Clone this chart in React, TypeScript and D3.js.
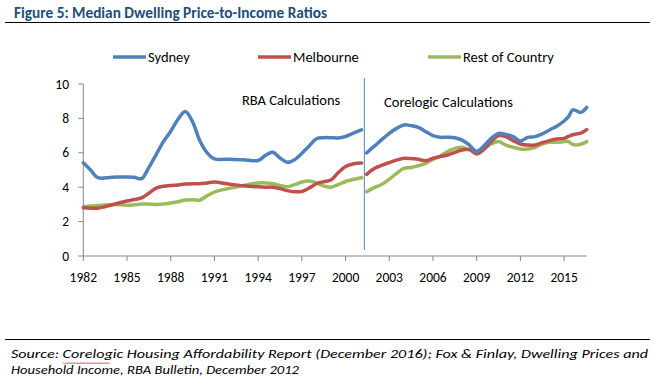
import React from "react";
import * as d3 from "d3";

const seriesNames = ["Sydney", "Melbourne", "Rest of Country"];
const seriesColors = ["#4F81BD", "#C0504D", "#9BBB59"];

// RBA calculations (to 2001)
const rbaYears = [1982, 1982.5, 1983, 1984, 1985, 1985.5, 1986, 1986.5, 1987, 1987.5, 1988, 1988.5, 1989, 1989.5, 1990, 1990.5, 1991, 1992, 1993, 1994, 1994.5, 1995, 1995.5, 1996, 1996.5, 1997, 1997.5, 1998, 1998.5, 1999, 1999.5, 2000, 2000.5, 2001.1];
const sydneyRBA = [5.42, 5.0, 4.55, 4.58, 4.6, 4.58, 4.5, 5.15, 5.9, 6.65, 7.25, 7.95, 8.4, 7.8, 6.7, 6.0, 5.65, 5.63, 5.6, 5.55, 5.85, 6.03, 5.7, 5.45, 5.6, 5.97, 6.4, 6.82, 6.88, 6.88, 6.86, 6.95, 7.13, 7.33];
const melbourneRBA = [2.8, 2.78, 2.78, 2.98, 3.2, 3.28, 3.38, 3.65, 3.95, 4.05, 4.1, 4.13, 4.18, 4.2, 4.2, 4.25, 4.3, 4.18, 4.08, 4.02, 4.0, 4.0, 3.92, 3.8, 3.74, 3.75, 3.95, 4.2, 4.32, 4.42, 4.85, 5.2, 5.35, 5.4];
const restRBA = [2.87, 2.9, 2.93, 3.0, 2.95, 2.98, 3.02, 3.02, 3.0, 3.02, 3.08, 3.15, 3.25, 3.27, 3.25, 3.5, 3.72, 3.93, 4.1, 4.25, 4.25, 4.2, 4.1, 4.03, 4.15, 4.3, 4.36, 4.25, 4.08, 4.0, 4.15, 4.33, 4.45, 4.55];

// Corelogic calculations (from 2001)
const clYears = [2001.45, 2002, 2002.5, 2003, 2003.5, 2004, 2004.5, 2005, 2005.5, 2006, 2006.5, 2007, 2007.5, 2008, 2008.5, 2009, 2009.5, 2010, 2010.5, 2011, 2011.5, 2012, 2012.5, 2013, 2013.5, 2014, 2014.5, 2015, 2015.3, 2015.6, 2016.15, 2016.55];
const sydneyCL = [6.0, 6.4, 6.78, 7.13, 7.42, 7.62, 7.58, 7.48, 7.23, 7.0, 6.9, 6.9, 6.88, 6.74, 6.45, 6.08, 6.4, 6.84, 7.13, 7.07, 6.94, 6.69, 6.9, 6.94, 7.1, 7.33, 7.55, 7.85, 8.1, 8.5, 8.35, 8.64];
const melbourneCL = [4.75, 5.1, 5.28, 5.43, 5.57, 5.68, 5.67, 5.62, 5.54, 5.68, 5.78, 5.87, 6.02, 6.16, 6.2, 5.93, 6.2, 6.65, 7.0, 6.94, 6.71, 6.51, 6.45, 6.45, 6.59, 6.71, 6.8, 6.84, 6.95, 7.05, 7.15, 7.35];
const restCL = [3.74, 3.99, 4.17, 4.46, 4.8, 5.1, 5.14, 5.25, 5.39, 5.62, 5.81, 6.07, 6.26, 6.32, 6.16, 6.1, 6.26, 6.51, 6.65, 6.45, 6.32, 6.22, 6.22, 6.32, 6.51, 6.61, 6.61, 6.65, 6.66, 6.48, 6.5, 6.65];

const xTickYears = [1982, 1985, 1988, 1991, 1994, 1997, 2000, 2003, 2006, 2009, 2012, 2015];
const yTicks = [0, 2, 4, 6, 8, 10];
const xDomain = [1982, 2016.55];
const breakYear = 2001.29;

const titleText = "Figure 5: Median Dwelling Price-to-Income Ratios";
const annotations = ["RBA Calculations", "Corelogic Calculations"];
const sourceLine1 = "Source: Corelogic Housing Affordability Report (December 2016); Fox & Finlay, Dwelling Prices and";
const sourceLine2 = "Household Income, RBA Bulletin, December 2012";

const FONT = "Carlito, Calibri, Lato, sans-serif";

export default function App() {
  const x = d3.scaleLinear().domain(xDomain).range([83.3, 586.7]);
  const y = d3.scaleLinear().domain([0, 10]).range([256, 84]);
  const line = d3
    .line<[number, number]>()
    .x((d) => x(d[0]))
    .y((d) => y(d[1]))
    .curve(d3.curveCatmullRom.alpha(0.5));

  const rbaSeries = [sydneyRBA, melbourneRBA, restRBA];
  const clSeries = [sydneyCL, melbourneCL, restCL];
  const legendX = [113, 258, 428];

  const wave = d3.range(0, 48, 1.5).map((dx, i) => [63 + dx, 362.5 + (i % 2 === 0 ? 0 : 1.5)] as [number, number]);

  return (
    <svg width={655} height={382} style={{ position: "absolute", left: 0, top: 0, background: "#fff" }} fontFamily={FONT}>
      <rect width={655} height={382} fill="#fff" />
      {/* Title */}
      <text x={14} y={18} fontSize={16} fontWeight="bold" fill="#1F4E79" textLength={313} lengthAdjust="spacingAndGlyphs">
        {titleText}
      </text>
      <line x1={5} x2={650} y1={22.5} y2={22.5} stroke="#000" strokeWidth={1} />

      {/* Legend */}
      {seriesNames.map((n, i) => (
        <g key={n}>
          <line x1={legendX[i]} x2={legendX[i] + 33} y1={57} y2={57} stroke={seriesColors[i]} strokeWidth={3.5} />
          <text x={legendX[i] + 35} y={62} fontSize={14.5} fill="#000">
            {n}
          </text>
        </g>
      ))}

      {/* Axes */}
      <line x1={x(xDomain[0])} x2={x(xDomain[0])} y1={y(10)} y2={y(0)} stroke="#868686" />
      {yTicks.map((t) => (
        <g key={t}>
          <line x1={x(xDomain[0]) - 5} x2={x(xDomain[0])} y1={y(t)} y2={y(t)} stroke="#868686" />
          <text x={69} y={y(t) + 4.5} fontSize={13.5} textAnchor="end" fill="#000">
            {t}
          </text>
        </g>
      ))}
      <line x1={x(xDomain[0])} x2={x(xDomain[1])} y1={y(0)} y2={y(0)} stroke="#868686" />
      {xTickYears.map((t) => (
        <g key={t}>
          <line x1={x(t)} x2={x(t)} y1={y(0)} y2={y(0) + 5} stroke="#868686" />
          <text x={x(t)} y={282} fontSize={13.5} textAnchor="middle" fill="#000">
            {t}
          </text>
        </g>
      ))}

      {/* Break line */}
      <line x1={x(breakYear)} x2={x(breakYear)} y1={78} y2={250} stroke="#4F81BD" strokeWidth={1} />

      {/* Annotations */}
      <text x={242} y={105} fontSize={14.5} fill="#000">
        {annotations[0]}
      </text>
      <text x={384} y={107} fontSize={14.5} fill="#000">
        {annotations[1]}
      </text>

      {/* Series (drawn back to front: rest, melbourne, sydney) */}
      {[2, 1, 0].map((i) => (
        <g key={i}>
          <path d={line(rbaYears.map((yr, k) => [yr, rbaSeries[i][k]] as [number, number])) || ""} fill="none" stroke={seriesColors[i]} strokeWidth={3.5} strokeLinejoin="round" strokeLinecap="round" />
          <path d={line(clYears.map((yr, k) => [yr, clSeries[i][k]] as [number, number])) || ""} fill="none" stroke={seriesColors[i]} strokeWidth={3.5} strokeLinejoin="round" strokeLinecap="round" />
        </g>
      ))}

      {/* Source */}
      <line x1={5} x2={650} y1={339.5} y2={339.5} stroke="#000" strokeWidth={1} />
      <text x={11} y={358} fontSize={13} fontStyle="italic" fill="#000" textLength={637} lengthAdjust="spacingAndGlyphs">
        {sourceLine1}
      </text>
      <path d={d3.line()(wave) || ""} fill="none" stroke="#E02020" strokeWidth={0.8} />
      <text x={11} y={374} fontSize={13} fontStyle="italic" fill="#000" textLength={288} lengthAdjust="spacingAndGlyphs">
        {sourceLine2}
      </text>
    </svg>
  );
}
